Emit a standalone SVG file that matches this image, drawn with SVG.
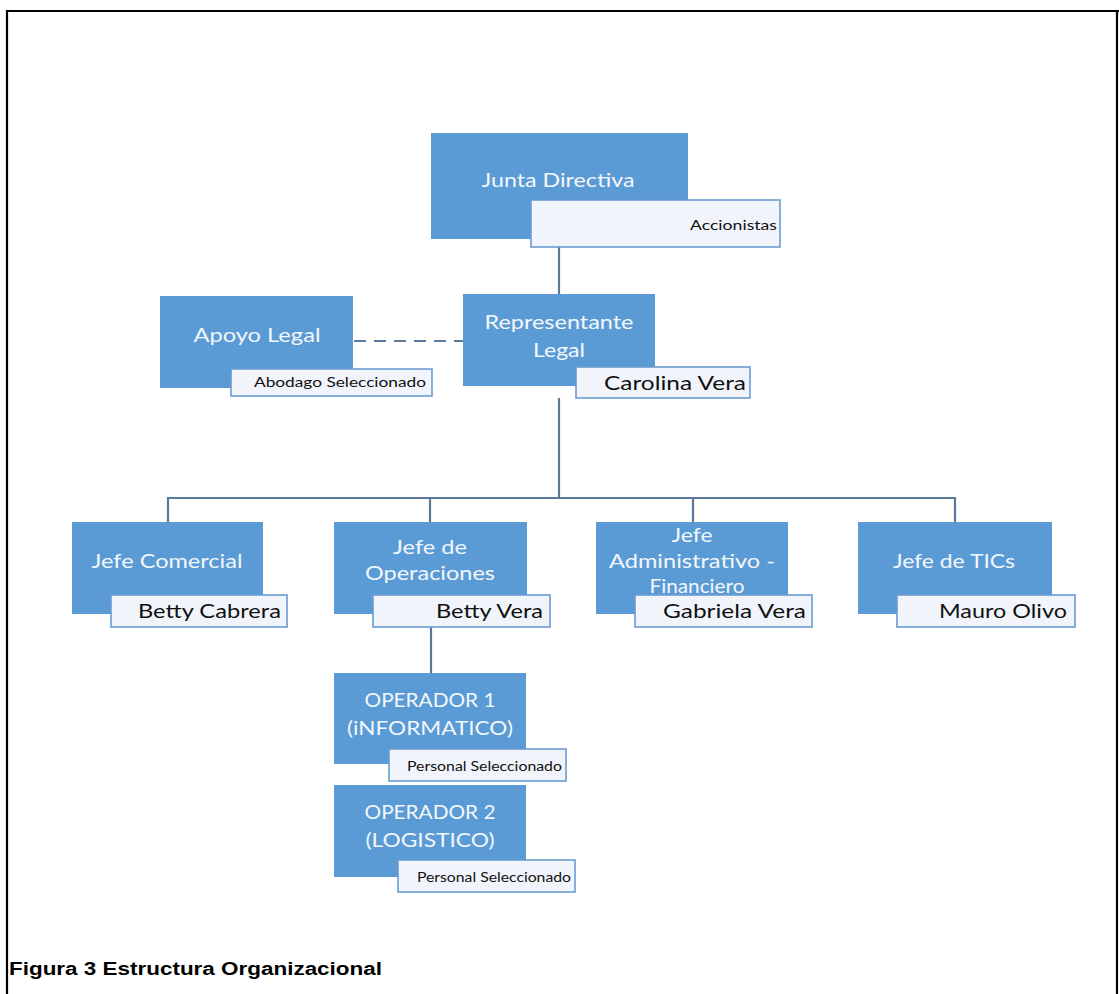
<svg xmlns="http://www.w3.org/2000/svg" width="1119" height="994" viewBox="0 0 1119 994">
<style>
.box{fill:#5b9bd5}
.sub{fill:#f1f5fb;stroke:#6b9cd2;stroke-width:1.6}
.t{font-family:Lato,"Liberation Sans",sans-serif;fill:#f2f7fc;text-anchor:middle;font-size:20px}
.n{font-family:Lato,"Liberation Sans",sans-serif;fill:#111;text-anchor:end;font-size:20px}
.s{font-family:Lato,"Liberation Sans",sans-serif;fill:#111;text-anchor:end;font-size:13.5px}
.ln{stroke:#5a7897;stroke-width:2.2;fill:none}
.dash{stroke:#5a7897;stroke-width:2.2;fill:none;stroke-dasharray:12 8}
</style>
<rect x="0" y="0" width="1119" height="994" fill="#ffffff"/>
<g id="frame" stroke="#000" stroke-width="2.2" fill="none">
<line x1="7" y1="11" x2="1119" y2="11"/>
<line x1="7" y1="10" x2="7" y2="994"/>
<line x1="1117" y1="10" x2="1117" y2="994"/>
</g>
<g id="connectors">
<line class="ln" x1="559" y1="247" x2="559" y2="295"/>
<line class="dash" x1="354" y1="341" x2="463" y2="341"/>
<line class="ln" x1="559" y1="398" x2="559" y2="498"/>
<line class="ln" x1="168" y1="498" x2="955" y2="498"/>
<line class="ln" x1="168" y1="497" x2="168" y2="522"/>
<line class="ln" x1="430" y1="497" x2="430" y2="522"/>
<line class="ln" x1="693" y1="497" x2="693" y2="522"/>
<line class="ln" x1="955" y1="497" x2="955" y2="522"/>
<line class="ln" x1="431" y1="627" x2="431" y2="673"/>
</g>
<g id="junta">
<rect class="box" x="431" y="133" width="257" height="106"/>
<text class="t" x="558" y="187" textLength="153" lengthAdjust="spacingAndGlyphs">Junta Directiva</text>
<rect class="sub" x="531" y="200" width="249" height="47"/>
<text class="s" x="777" y="230" textLength="87" lengthAdjust="spacingAndGlyphs">Accionistas</text>
</g>
<g id="apoyo">
<rect class="box" x="160" y="296" width="193" height="92"/>
<text class="t" x="257" y="342" textLength="127" lengthAdjust="spacingAndGlyphs">Apoyo Legal</text>
<rect class="sub" x="231" y="369" width="201" height="27"/>
<text class="s" x="426" y="387" textLength="172" lengthAdjust="spacingAndGlyphs">Abodago Seleccionado</text>
</g>
<g id="representante">
<rect class="box" x="463" y="294" width="192" height="92"/>
<text class="t" x="559" y="329" textLength="149" lengthAdjust="spacingAndGlyphs">Representante</text>
<text class="t" x="559" y="357" textLength="52" lengthAdjust="spacingAndGlyphs">Legal</text>
<rect class="sub" x="576" y="367" width="174" height="31"/>
<text class="n" x="746" y="390" textLength="142" lengthAdjust="spacingAndGlyphs">Carolina Vera</text>
</g>
<g id="comercial">
<rect class="box" x="72" y="522" width="191" height="92"/>
<text class="t" x="167" y="568" textLength="151" lengthAdjust="spacingAndGlyphs">Jefe Comercial</text>
<rect class="sub" x="111" y="595" width="176" height="32"/>
<text class="n" x="281" y="618" textLength="143" lengthAdjust="spacingAndGlyphs">Betty Cabrera</text>
</g>
<g id="operaciones">
<rect class="box" x="334" y="522" width="193" height="92"/>
<text class="t" x="430" y="554" textLength="74" lengthAdjust="spacingAndGlyphs">Jefe de</text>
<text class="t" x="430" y="580" textLength="130" lengthAdjust="spacingAndGlyphs">Operaciones</text>
<rect class="sub" x="373" y="595" width="177" height="32"/>
<text class="n" x="543" y="618" textLength="107" lengthAdjust="spacingAndGlyphs">Betty Vera</text>
</g>
<g id="administrativo">
<rect class="box" x="596" y="522" width="192" height="92"/>
<text class="t" x="692" y="542" textLength="41" lengthAdjust="spacingAndGlyphs">Jefe</text>
<text class="t" x="692" y="568" textLength="166" lengthAdjust="spacingAndGlyphs">Administrativo -</text>
<text class="t" x="697" y="593" textLength="95" lengthAdjust="spacingAndGlyphs">Financiero</text>
<rect class="sub" x="635" y="595" width="177" height="32"/>
<text class="n" x="806" y="618" textLength="143" lengthAdjust="spacingAndGlyphs">Gabriela Vera</text>
</g>
<g id="tics">
<rect class="box" x="858" y="522" width="194" height="92"/>
<text class="t" x="954" y="568" textLength="122" lengthAdjust="spacingAndGlyphs">Jefe de TICs</text>
<rect class="sub" x="897" y="595" width="178" height="32"/>
<text class="n" x="1067" y="618" textLength="128" lengthAdjust="spacingAndGlyphs">Mauro Olivo</text>
</g>
<g id="operador1">
<rect class="box" x="334" y="673" width="192" height="91"/>
<text class="t" x="430" y="707" textLength="131" lengthAdjust="spacingAndGlyphs">OPERADOR 1</text>
<text class="t" x="430" y="735" textLength="166" lengthAdjust="spacingAndGlyphs">(iNFORMATICO)</text>
<rect class="sub" x="389" y="749" width="177" height="32"/>
<text class="s" x="562" y="771" textLength="155" lengthAdjust="spacingAndGlyphs">Personal Seleccionado</text>
</g>
<g id="operador2">
<rect class="box" x="334" y="785" width="192" height="92"/>
<text class="t" x="430" y="819" textLength="131" lengthAdjust="spacingAndGlyphs">OPERADOR 2</text>
<text class="t" x="430" y="847" textLength="129" lengthAdjust="spacingAndGlyphs">(LOGISTICO)</text>
<rect class="sub" x="398" y="860" width="177" height="32"/>
<text class="s" x="571" y="882" textLength="154" lengthAdjust="spacingAndGlyphs">Personal Seleccionado</text>
</g>
<g id="caption">
<text x="9" y="975" font-family="'Liberation Sans',Arial,sans-serif" font-weight="bold" font-size="17.5px" fill="#000" textLength="373" lengthAdjust="spacingAndGlyphs">Figura 3 Estructura Organizacional</text>
</g>
</svg>
